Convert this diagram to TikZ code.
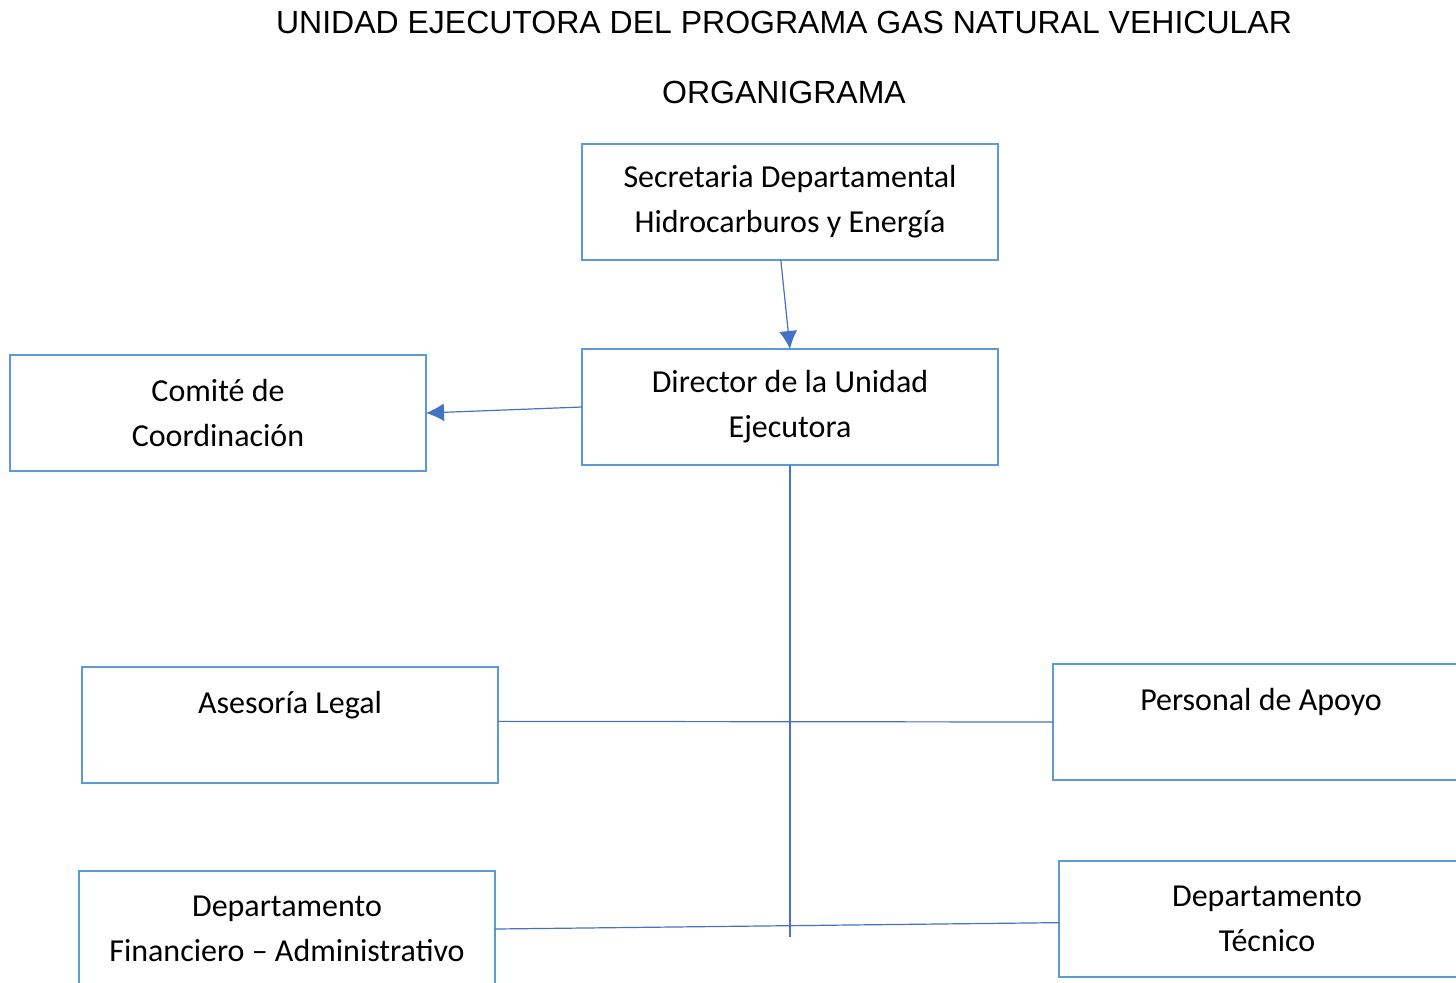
\documentclass[tikz,border=0pt]{standalone}
\usepackage{fontspec}
\setmainfont{Carlito}
\newfontfamily\titlefont{Liberation Sans}
\usetikzlibrary{positioning, arrows.meta}
\definecolor{boxblue}{HTML}{5B9BD5}
\definecolor{lineblue}{HTML}{4472C4}
\tikzset{%
  org/.style={draw=boxblue, line width=1.3pt, rectangle, outer sep=0pt,
    minimum width=208pt, minimum height=58pt, align=center,
    font=\fontsize{16}{22.5}\selectfont},
  lnk/.style={draw=lineblue, line width=0.6pt},
  arr/.style={lnk, -{Latex[length=9pt, width=9pt, fill=lineblue]}},
  ttl/.style={font=\titlefont\fontsize{16}{18}\selectfont}
}

\begin{document}
\begin{tikzpicture}[x=0.5pt, y=-0.5pt]
        \useasboundingbox (0,0) rectangle (1456,982);
        \clip (0,0) rectangle (1456,982);
        \node[ttl] (title) at (784,22) {UNIDAD EJECUTORA DEL PROGRAMA GAS NATURAL VEHICULAR};
        \node[ttl] (sub)   at (784,92) {ORGANIGRAMA};
        \node[org] (sec) at (790,202)            {Secretaria Departamental\\Hidrocarburos y Energía};
        \node[org] (dir) [below = 44.5pt of sec] {Director de la Unidad\\Ejecutora};
        \node[org] (com) at (218,413)            {Comité de\\Coordinación};
        \node[org] (ase) at (290,725)            {Asesoría Legal\\\mbox{}};
        \node[org] (per) at (1261,722)           {Personal de Apoyo\\\mbox{}};
        \node[org] (fin) at (287,929)            {Departamento\\Financiero – Administrativo};
        \node[org] (tec) at (1267,919)           {Departamento\\Técnico};
        \coordinate (vend) at (790,937);
        \draw[arr] (sec.261) -- (dir.north);
        \draw[arr] (dir.west) -- (com.east);
        \draw[lnk] (dir.south) -- (vend);
        \draw[lnk] (ase.1.5) -- (per.west);
        \draw[lnk] (fin.0.8) -- (tec.181.1);
      \end{tikzpicture}
\end{document}
